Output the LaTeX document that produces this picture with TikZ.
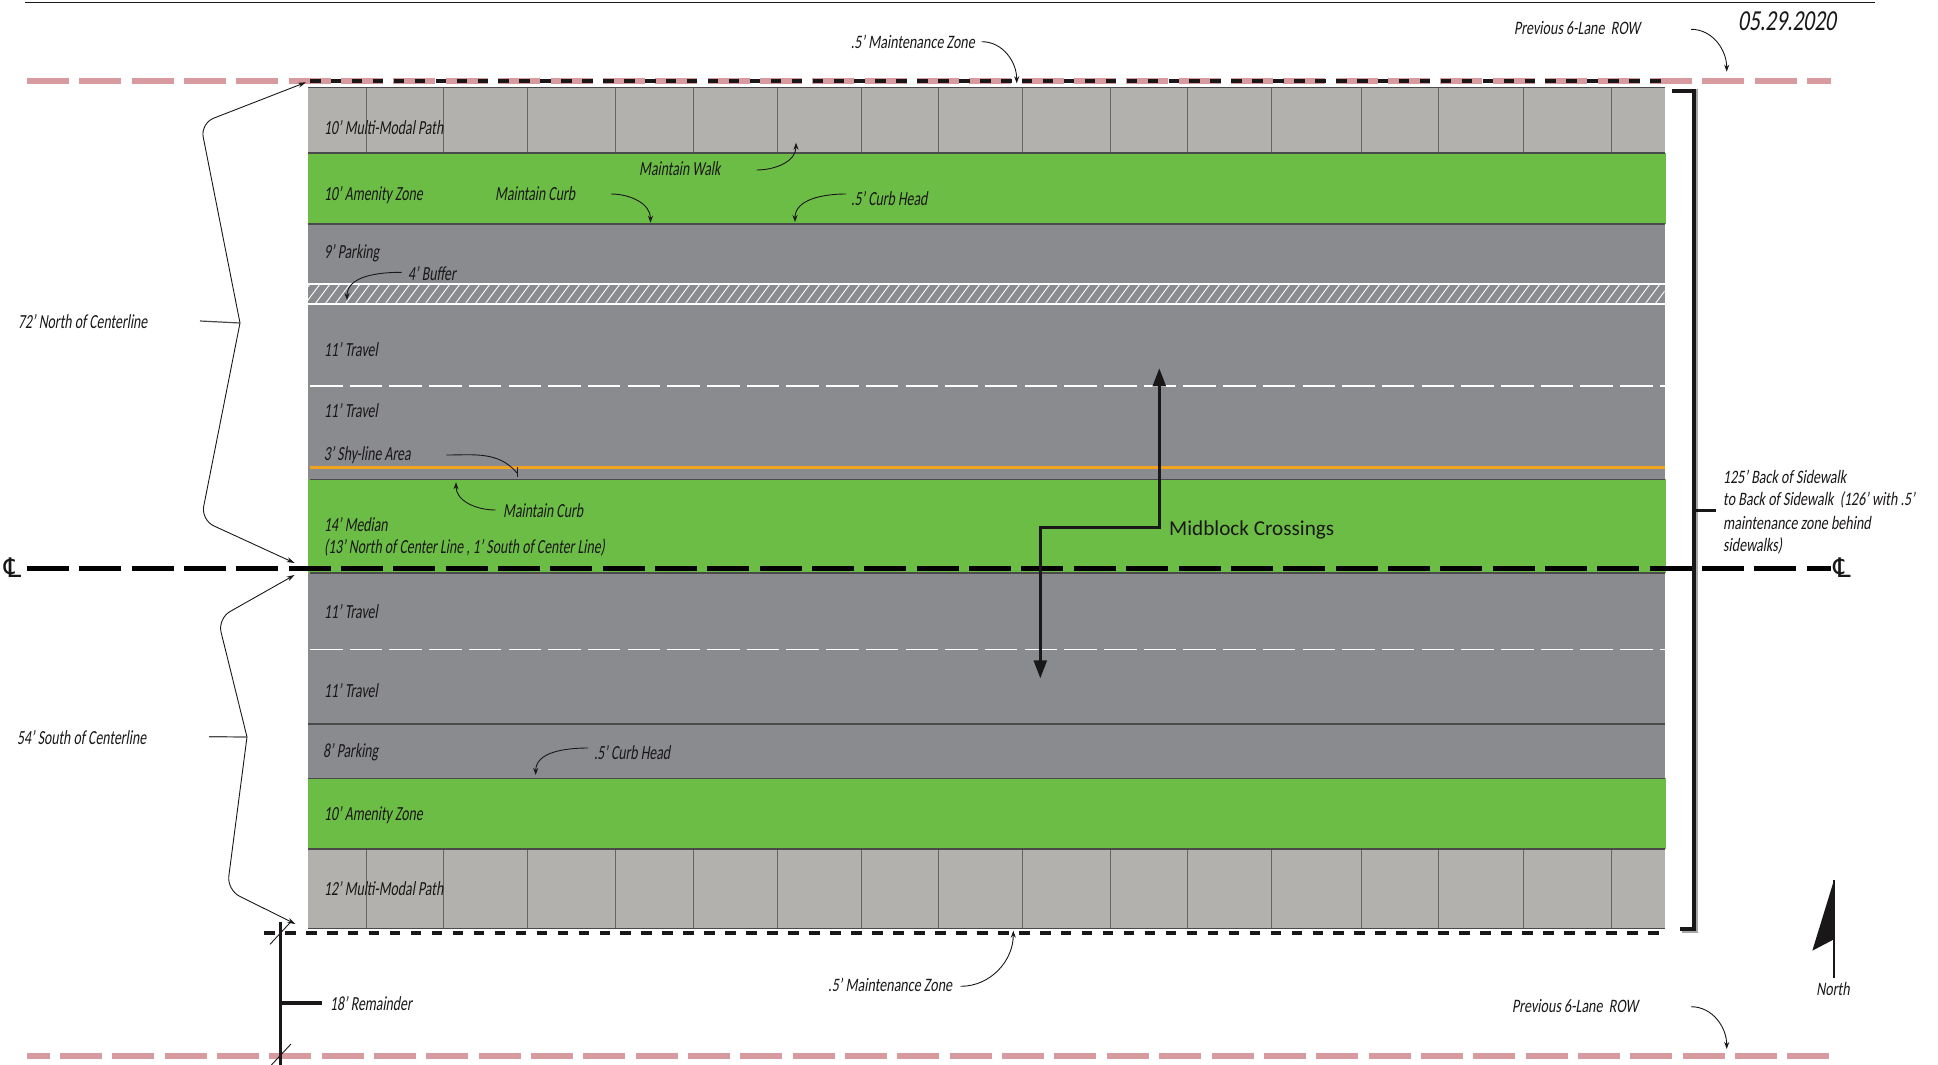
\documentclass[tikz,border=0pt]{standalone}
\usepackage{fontspec}
\usetikzlibrary{arrows.meta}
\setmainfont{Carlito}
\newfontfamily\labfont[FakeStretch=0.69,FakeSlant=0.16]{Carlito}
\newfontfamily\outfont[FakeStretch=0.74,FakeSlant=0.16]{Carlito}
\newfontfamily\symfont{DejaVu Sans}
\definecolor{inkc}{HTML}{1A1718}
\definecolor{grass}{HTML}{6CBD45}
\definecolor{road}{HTML}{8A8B8F}
\definecolor{walk}{HTML}{B3B1AE}
\definecolor{pinkc}{HTML}{D79A9E}
\definecolor{amber}{HTML}{F0A41E}
\definecolor{edgec}{HTML}{4A4A4A}
\tikzset{
  lab/.style={font=\labfont\fontsize{20}{24}\selectfont,text=inkc,inner sep=0pt,anchor=west,yshift=-1pt},
  outlab/.style={font=\outfont\fontsize{19}{23}\selectfont,text=inkc,inner sep=0pt,anchor=west},
  cl/.style={font=\symfont\fontsize{27}{30}\selectfont,text=inkc,inner sep=0pt},
  leader/.style={draw=inkc,line width=0.9pt,-{Stealth[length=7pt,width=5pt]}},
  brace/.style={draw=inkc,line width=0.9pt,rounded corners=14pt,-{Stealth[length=8pt,width=5pt]}},
  plain/.style={draw=inkc,line width=0.9pt},
  bandedge/.style={draw=edgec,line width=1.6pt},
  joint/.style={draw=edgec!85,line width=1pt},
  lanedash/.style={draw=white,line width=1.6pt,dash pattern=on 32.5pt off 7.2pt},
  pinkdash/.style={draw=pinkc,line width=6pt,dash pattern=on 42pt off 10.35pt},
  bkdash/.style={draw=inkc,line width=3.6pt,dash pattern=on 10.5pt off 10.44pt},
  cldash/.style={draw=black,line width=5pt,dash pattern=on 42pt off 10.35pt},
  bracket/.style={draw=inkc,line width=3.6pt,line join=miter},
  brshadow/.style={draw=black!35,line width=3.6pt,line join=miter},
  walkarrow/.style={draw=inkc,line width=2.6pt,line join=miter,-{Triangle[length=18pt,width=13pt]}}
}
\begin{document}
\begin{tikzpicture}[x=1pt,y=-1pt]
\useasboundingbox (0,0) rectangle (1938,1065);
% top rule
\draw[line width=1.6pt,draw=inkc] (25,2.5) -- (1875,2.5);
% bands
\fill[walk] (308.2,87.5) rectangle (1664.7,152.7);
\fill[grass] (308.2,152.7) rectangle (1665.5,224);
\fill[road] (308.2,224) rectangle (1664.7,479.3);
\fill[grass] (308.2,479.3) rectangle (1665.5,572.7);
\fill[road] (308.2,572.7) rectangle (1664.7,778.3);
\fill[grass] (308.2,778.3) rectangle (1665.5,848.7);
\fill[walk] (308.2,848.7) rectangle (1664.7,928.3);
% pavers
\foreach \x in {366,443.4,527.6,615.3,693,777.6,861,938.3,1022.3,1110.3,1187.3,1271.4,1361.5,1438,1523.3,1611.3}{
  \draw[joint] (\x,87.5) -- (\x,152.7);
  \draw[joint] (\x,848.7) -- (\x,928.3);
}
% hatch
\begin{scope}
\clip (308.2,284) rectangle (1664.7,304);
\foreach \x in {295,305,...,1680}{
  \draw[white,line width=0.9pt] (\x,304) -- (\x+15,284);
}
\end{scope}
\draw[white,line width=1.3pt] (308.2,284) -- (1664.7,284);
\draw[white,line width=1.3pt] (308.2,304) -- (1664.7,304);
% band edges
\draw[bandedge] (308.2,87.5) -- (1664.7,87.5);
\draw[bandedge] (308.2,152.7) -- (1664.7,152.7);
\draw[bandedge] (308.2,224) -- (1664.7,224);
\draw[bandedge] (310,479.3) -- (1664.7,479.3);
\draw[bandedge] (310,573) -- (1664.7,573);
\draw[bandedge] (308.2,724) -- (1664.7,724);
\draw[bandedge] (308.2,778.3) -- (1664.7,778.3);
\draw[bandedge] (308.2,848.7) -- (1664.7,848.7);
\draw[bandedge] (308.2,928.3) -- (1664.7,928.3);
% lane lines
\draw[lanedash] (310,385.7) -- (1664.7,385.7);
\draw[lanedash] (310,649.3) -- (1664.7,649.3);
\draw[draw=amber,line width=2.6pt] (310,467.3) -- (1664.7,467.3);
% ROW lines
\draw[pinkdash] (27,81) -- (1831,81);
\draw[bkdash] (310,81) -- (1665,81);
\draw[pinkdash] (59.8,1056.3) -- (1831,1056.3);
\draw[draw=pinkc,line width=6pt] (27,1056.3) -- (49.5,1056.3);
\draw[draw=inkc,line width=3.6pt,dash pattern=on 10.6pt off 10.37pt] (264,933) -- (1659,933);
% centre line
\draw[cldash] (26.8,568) -- (1831,568);
% symbols
\node[cl] (cla) at (12.5,568) {℄};
\node[cl] (clb) at (1842,568) {℄};
% right bracket
\coordinate (bra) at (1671.7,91);
\coordinate (brb) at (1680,929);
\coordinate (brm) at (1694,510);
\coordinate (brt) at (1716,510);
\draw[brshadow] (1673.7,91) -- (1696,91) -- (1696,931) -- (1682,931);
\draw[bracket] (bra) -| (brm) |- (brb);
\draw[draw=inkc,line width=3pt] (brm) -- (brt);
% left braces
\coordinate (nTip) at (306,82.3);
\coordinate (nMid) at (240,323);
\coordinate (nBot) at (294.6,563);
\coordinate (nTick) at (200,321);
\draw[brace] (nMid) -- (200.5,123.3) -- (nTip);
\draw[brace] (nMid) -- (201,520) -- (nBot);
\draw[draw=edgec,line width=1.2pt] (nTick) -- (nMid);
\coordinate (sTip) at (294.6,575);
\coordinate (sMid) at (247,737);
\coordinate (sBot) at (295.5,924);
\coordinate (sTick) at (209,736.7);
\draw[brace] (sMid) -- (217.7,618.5) -- (sTip);
\draw[brace] (sMid) -- (227,890) -- (sBot);
\draw[draw=edgec,line width=1.2pt] (sTick) -- (sMid);
% remainder
\coordinate (remT) at (280.4,921.7);
\coordinate (remB) at (280.4,1065);
\coordinate (remM) at (280.4,1003);
\coordinate (remE) at (322,1003);
\draw[draw=inkc,line width=3.2pt] (remT) -- (remB);
\draw[draw=inkc,line width=3.2pt] (remM) -- (remE);
\coordinate (sl1a) at (270,944.3);
\coordinate (sl1b) at (291,921.7);
\coordinate (sl2a) at (271.4,1065);
\coordinate (sl2b) at (291,1044);
\draw[plain] (sl1a) -- (sl1b);
\draw[plain] (sl2a) -- (sl2b);
% midblock arrows
\coordinate (mbM) at (1159.3,527.3);
\coordinate (mbU) at (1159.3,368.3);
\coordinate (mbL) at (1040.3,527.3);
\coordinate (mbD) at (1040.3,678.3);
\draw[walkarrow] (mbM) -- (mbU);
\draw[walkarrow] (1160.6,527.3) -- (mbL) -- (mbD);
\node[inner sep=0pt,anchor=west,font=\fontsize{21.2}{24}\selectfont,text=inkc] (mb) at (1169,529.5) {Midblock Crossings};
% labels
\node[lab] (t1) at (324,126.7) {10’ Multi-Modal Path};
\node[lab] (t2) at (324,194) {10’ Amenity Zone};
\node[lab] (t3) at (324,252) {9’ Parking};
\node[lab] (t4) at (408,272.7) {4’ Buffer};
\node[lab] (t5) at (324,348.5) {11’ Travel};
\node[lab] (t6) at (324,410) {11’ Travel};
\node[lab] (t7) at (323.7,454) {3’ Shy-line Area};
\node[lab] (t8) at (324,524) {14’ Median};
\node[lab] (t9) at (324,547) {(13’ North of Center Line , 1’ South of Center Line)};
\node[lab] (t10) at (324,611) {11’ Travel};
\node[lab] (t11) at (324,689.3) {11’ Travel};
\node[lab] (t12) at (323,750.7) {8’ Parking};
\node[lab] (t13) at (324,814.3) {10’ Amenity Zone};
\node[lab] (t14) at (324,887.7) {12’ Multi-Modal Path};
\node[lab] (t15) at (639,167.7) {Maintain Walk};
\node[lab] (t16) at (495,192.7) {Maintain Curb};
\node[lab] (t17) at (851,197.7) {.5’ Curb Head};
\node[lab] (t18) at (503,509.3) {Maintain Curb};
\node[lab] (t19) at (593.8,751.7) {.5’ Curb Head};
\node[lab] (t20) at (18,320.5) {72’ North of Centerline};
\node[lab] (t21) at (17,736.7) {54’ South of Centerline};
\node[lab] (t22) at (330,1003) {18’ Remainder};
\node[outlab] (t23) at (850.7,41.7) {.5’ Maintenance Zone};
\node[outlab] (t24) at (828,985) {.5’ Maintenance Zone};
\node[outlab] (t25) at (1514,27.7) {Previous 6-Lane\ \ ROW};
\node[outlab] (t26) at (1512,1006) {Previous 6-Lane\ \ ROW};
\node[outlab] (t27) at (1723,476.7) {125’ Back of Sidewalk};
\node[outlab] (t28) at (1723,500.3) {to Back of Sidewalk\ \ (126’ with .5’};
\node[outlab] (t29) at (1723,523) {maintenance zone behind};
\node[outlab] (t30) at (1723,546) {sidewalks)};
\node[outlab,anchor=center] (t31) at (1833,989) {North};
\node[outlab,font=\outfont\fontsize{29}{32}\selectfont] (t32) at (1738,21.7) {05.29.2020};
% leaders
\coordinate (a1) at (756.6,170); \coordinate (b1) at (796,142.7);
\draw[leader] (a1) to[out=0,in=-90] (b1);
\coordinate (a2) at (611,194); \coordinate (b2) at (650.5,222.7);
\draw[leader] (a2) to[out=0,in=90] (b2);
\coordinate (a3) at (846,194); \coordinate (b3) at (795,222);
\draw[leader] (a3) to[out=180,in=90] (b3);
\coordinate (a4) at (401.5,272.3); \coordinate (b4) at (347,300);
\draw[leader] (a4) to[out=180,in=90] (b4);
\coordinate (a5) at (446.4,455); \coordinate (b5) at (517,473);
\draw[plain] (a5) to[out=0,in=130] (b5);
\coordinate (c5a) at (517,466.7); \coordinate (c5b) at (517,477.3);
\draw[plain] (c5a) -- (c5b);
\coordinate (a6) at (495.5,510); \coordinate (b6) at (456,482.3);
\draw[leader] (a6) to[out=180,in=-90] (b6);
\coordinate (a7) at (588,748); \coordinate (b7) at (535.7,775);
\draw[leader] (a7) to[out=180,in=90] (b7);
\coordinate (a8) at (981.7,41.7); \coordinate (b8) at (1016.7,83.3);
\draw[leader] (a8) to[out=0,in=90] (b8);
\coordinate (a9) at (960.7,986.3); \coordinate (b9) at (1013.3,930.7);
\draw[leader] (a9) to[out=0,in=-90] (b9);
\coordinate (a10) at (1691,29.3); \coordinate (b10) at (1726.7,71.7);
\draw[leader] (a10) to[out=0,in=90] (b10);
\coordinate (a11) at (1691,1006.7); \coordinate (b11) at (1726.7,1049);
\draw[leader] (a11) to[out=0,in=90] (b11);
% north arrow
\coordinate (nA) at (1834,880); \coordinate (nB) at (1834,977.7);
\coordinate (nC) at (1812.3,950.7); \coordinate (nD) at (1834,939.3);
\draw[draw=inkc,line width=1.4pt] (nA) -- (nB);
\fill[inkc] (nA) -- (nC) -- (nD) -- cycle;
\end{tikzpicture}
\end{document}
